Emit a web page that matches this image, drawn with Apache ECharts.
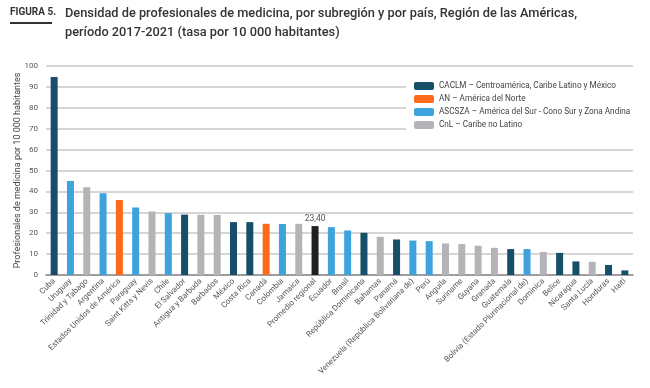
<!DOCTYPE html>
<html><head><meta charset="utf-8">
<script src="https://cdn.jsdelivr.net/npm/echarts@6/dist/echarts.min.js"></script>
<style>html,body{margin:0;padding:0;background:#fff}#c{width:650px;height:388px}</style>
</head><body><div id="c"></div>
<script>
const categories = ["Cuba","Uruguay","Trinidad y Tabago","Argentina","Estados Unidos de América","Paraguay","Saint Kitts y Nevis","Chile","El Salvador","Antigua y Barbuda","Barbados","México","Costa Rica","Canadá","Colombia","Jamaica","Promedio regional","Ecuador","Brasil","República Dominicana","Bahamas","Panamá","Venezuela (República Bolivariana de)","Perú","Anguila","Suriname","Guyana","Granada","Guatemala","Bolivia (Estado Plurinacional de)","Dominica","Belice","Nicaragua","Santa Lucía","Honduras","Haití"];
const values = [94.7,45.0,42.0,39.1,35.9,32.3,30.4,29.6,28.9,28.8,28.7,25.3,25.3,24.5,24.4,24.5,23.4,22.9,21.3,20.2,18.3,17.0,16.5,16.2,15.1,14.8,14.0,13.0,12.4,12.4,11.0,10.6,6.5,6.3,4.8,2.2];
const groups = ["CACLM","ASCSZA","CnL","ASCSZA","AN","ASCSZA","CnL","ASCSZA","CACLM","CnL","CnL","CACLM","CACLM","AN","ASCSZA","CnL","PR","ASCSZA","ASCSZA","CACLM","CnL","CACLM","ASCSZA","ASCSZA","CnL","CnL","CnL","CnL","CACLM","ASCSZA","CnL","CACLM","CACLM","CnL","CACLM","CACLM"];
const seriesKeys = ["CACLM","AN","ASCSZA","CnL","PR"];
const seriesNames = ["CACLM – Centroamérica, Caribe Latino y México","AN – América del Norte","ASCSZA – América del Sur - Cono Sur y Zona Andina","CnL – Caribe no Latino","Promedio regional"];
const yTicks = [0,10,20,30,40,50,60,70,80,90,100];
const colors = {CACLM:"#164f67",AN:"#fe6a1c",ASCSZA:"#3ea2dd",CnL:"#b4b4b8",PR:"#231f20"};

const chart = echarts.init(document.getElementById('c'));
const series = seriesKeys.map((k,i)=>({
  name: seriesNames[i],
  type:'bar', stack:'s', barWidth:7,
  itemStyle:{color:colors[k]},
  data: values.map((v,j)=> groups[j]===k ? v : '-'),
  label: k==='PR' ? {show:true, position:'top', formatter:p=>p.value.toFixed(2).replace('.',','), fontSize:8.5, color:'#555', fontFamily:'Roboto', distance:3} : {show:false}
}));
chart.setOption({
  animation:false,
  textStyle:{fontFamily:'Roboto'},
  grid:{left:46,right:17,top:66,bottom:113},
  legend:{
    data:seriesNames.slice(0,4), orient:'vertical', left:406, top:78,
    itemWidth:20, itemHeight:8, itemGap:5, backgroundColor:'#fff', padding:[4,8,4,8],
    textStyle:{fontSize:8.2, color:'#444', fontFamily:'Roboto'}, selectedMode:false
  },
  xAxis:{type:'category', data:categories,
    axisTick:{show:false}, axisLine:{lineStyle:{color:'#8a8a8a', width:1.5}},
    axisLabel:{interval:0, rotate:45, fontSize:8, color:'#555', margin:5}},
  yAxis:{type:'value', min:0, max:100, interval:10,
    name:'Profesionales de medicina por 10 000 habitantes', nameLocation:'middle', nameGap:24, nameRotate:90,
    nameMoveOverlap:false,
    nameTextStyle:{fontSize:9, color:'#444'},
    axisLabel:{fontSize:8, color:'#555', margin:8},
    splitLine:{lineStyle:{color:'#c8c8c8', width:1.5}}},
  graphic:[
    {type:'text', left:10, top:7, style:{text:'FIGURA 5.', font:'bold 10px Roboto', fill:'#333'}},
    {type:'rect', shape:{x:10,y:22,width:42,height:2}, style:{fill:'#333'}},
    {type:'text', left:65, top:4, style:{text:'Densidad de profesionales de medicina, por subregión y por país, Región de las Américas,\nperíodo 2017-2021 (tasa por 10 000 habitantes)', font:'500 12.8px Roboto', fill:'#333', lineHeight:19}}
  ],
  series: series
});
</script></body></html>
